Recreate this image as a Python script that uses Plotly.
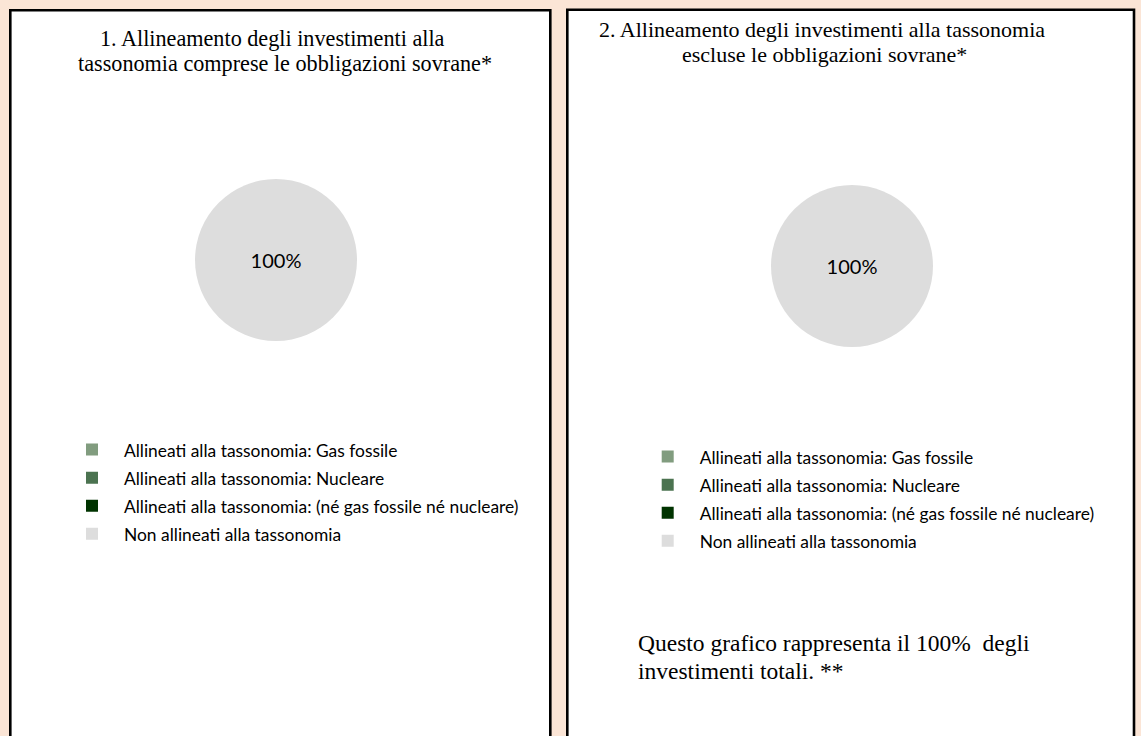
import plotly.graph_objects as go

# ---- data ----
labels = [
    "Allineati alla tassonomia: Gas fossile",
    "Allineati alla tassonomia: Nucleare",
    "Allineati alla tassonomia: (né gas fossile né nucleare)",
    "Non allineati alla tassonomia",
]
colors = ["#819C7F", "#4B7350", "#003300", "#DDDDDD"]
values_incl = [0, 0, 0, 100]
values_excl = [0, 0, 0, 100]
title1_lines = [
    "1. Allineamento degli investimenti alla",
    "tassonomia comprese le obbligazioni sovrane*",
]
title2_lines = [
    "2. Allineamento degli investimenti alla tassonomia",
    "escluse le obbligazioni sovrane*",
]
footnote_lines = [
    "Questo grafico rappresenta il 100%  degli",
    "investimenti totali. **",
]

W, H = 1141, 736
BG = "#FBE5D6"


def px_x(v):
    return v / W


def px_y(v):
    return 1 - v / H


def leg_labels(suffix):
    # same visible text; style suffix keeps the two legends' entries distinct
    return [f"<span style='font-size:17.4px{suffix}'>{l}</span>" for l in labels]


def pie_text(vals):
    return [f"{v}%" if v else "" for v in vals]


fig = go.Figure()

pies = [
    (values_incl, (276, 260), "legend", ""),
    (values_excl, (852, 266), "legend2", ";"),
]
R = 81
for vals, (cx, cy), leg, suf in pies:
    fig.add_trace(go.Pie(
        labels=leg_labels(suf),
        values=vals,
        text=pie_text(vals),
        textinfo="text",
        textposition="inside",
        insidetextorientation="horizontal",
        textfont=dict(family="Lato", size=20, color="#000000"),
        marker=dict(colors=colors, line=dict(width=0)),
        sort=False,
        direction="clockwise",
        domain=dict(x=[px_x(cx - R), px_x(cx + R)], y=[px_y(cy + R), px_y(cy - R)]),
        legend=leg,
        hoverinfo="label+percent",
    ))

# boxes
boxes = [(10.3, 550.3, 10.3), (567.3, 1134.0, 9.7)]
for x0, x1, y0 in boxes:
    fig.add_shape(type="rect", xref="paper", yref="paper",
                  x0=px_x(x0), x1=px_x(x1), y0=px_y(y0), y1=px_y(760),
                  line=dict(color="#000000", width=2.6), fillcolor="#FFFFFF",
                  layer="below")


def add_lines(lines, xs, ys, size, anchor):
    for t, x, y in zip(lines, xs, ys):
        fig.add_annotation(text=t, xref="paper", yref="paper",
                           x=px_x(x), y=px_y(y), xanchor=anchor, yanchor="middle",
                           showarrow=False,
                           font=dict(family="Liberation Serif", size=size, color="#000000"))


add_lines(title1_lines, [272.5, 285], [38.4, 63.4], 22.2, "center")
add_lines(title2_lines, [821.5, 824.5], [29.4, 54.4], 22, "center")
add_lines(footnote_lines, [636, 636], [643, 671], 23.5, "left")

legend_common = dict(
    xanchor="left", yanchor="top", bgcolor="rgba(0,0,0,0)",
    font=dict(family="Lato", size=19.3, color="#000000"),
    itemwidth=54, traceorder="normal", borderwidth=0,
)
fig.update_layout(
    width=W, height=H,
    margin=dict(l=0, r=0, t=0, b=0),
    paper_bgcolor=BG, plot_bgcolor=BG,
    showlegend=True,
    legend=dict(x=px_x(60), y=px_y(430.5), **legend_common),
    legend2=dict(x=px_x(635.7), y=px_y(437.5), **legend_common),
)

fig.write_html(
    "out.html",
    config={"displayModeBar": False},
    post_script="document.body.style.margin='0';document.body.style.background='%s';" % BG,
)
